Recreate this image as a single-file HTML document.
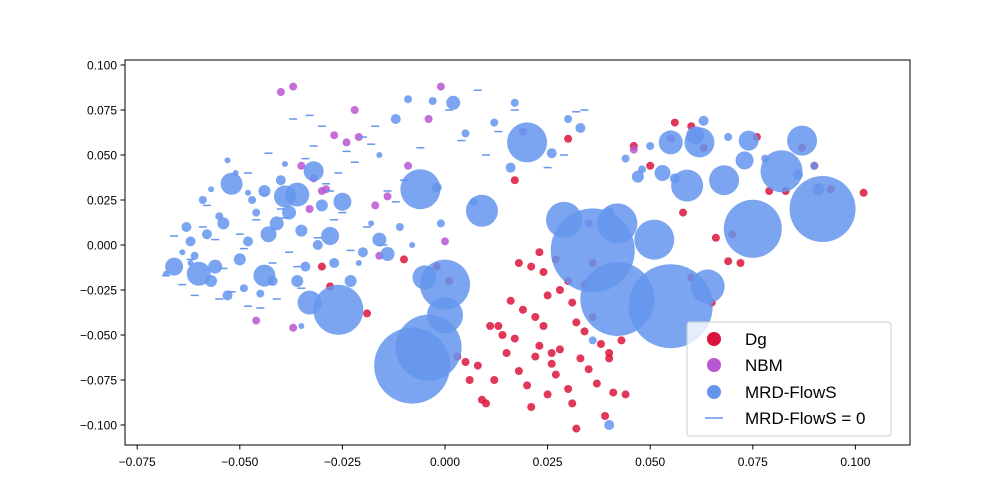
<!DOCTYPE html>
<html><head><meta charset="utf-8">
<style>
html,body{margin:0;padding:0;background:#fff;}
svg{display:block;font-family:"Liberation Sans","DejaVu Sans",sans-serif;}
</style></head>
<body>
<svg id="chart" width="1000" height="500" viewBox="0 0 1000 500">
<rect x="0" y="0" width="1000" height="500" fill="#fff"/>
<g id="marks"></g>
<rect x="125" y="60" width="785" height="385" fill="none" stroke="#000" stroke-width="1"/>
<g id="xaxis"></g>
<g id="yaxis"></g>
<g>
<rect x="687" y="322" width="204" height="114" rx="3" fill="#fff" fill-opacity="0.8" stroke="#ccc"/>
<circle cx="714" cy="339" r="7" fill="#DC143C"/>
<text x="745" y="345" font-size="17">Dg</text>
<circle cx="714" cy="365" r="7" fill="#BA55D3"/>
<text x="745" y="371" font-size="17">NBM</text>
<circle cx="714" cy="392" r="7" fill="#6495ED"/>
<text x="745" y="398" font-size="17">MRD-FlowS</text>
<line x1="705" y1="418" x2="723" y2="418" stroke="#6495ED" stroke-width="1.5"/>
<text x="745" y="424" font-size="17">MRD-FlowS = 0</text>
</g>
</svg>
<script>
const xTicks=[-0.075,-0.05,-0.025,0,0.025,0.05,0.075,0.1];
const xTickLabels=["−0.075","−0.050","−0.025","0.000","0.025","0.050","0.075","0.100"];
const yTicks=[-0.1,-0.075,-0.05,-0.025,0,0.025,0.05,0.075,0.1];
const yTickLabels=["−0.100","−0.075","−0.050","−0.025","0.000","0.025","0.050","0.075","0.100"];
const dgX=[0.005,0.010,0.012,0.015,0.017,0.018,0.020,0.021,0.022,0.023,0.024,0.025,0.026,0.027,0.028,0.030,0.031,0.033,0.034,0.035,0.037,0.038,0.040,0.041,0.043,0.016,0.019,0.022,0.025,0.028,0.031,0.034,0.013,0.018,0.024,0.030,0.036,0.009,0.011,0.014,0.021,0.027,0.032,0.039,0.044,0.006,0.003,0.001,-0.002,-0.010,-0.019,-0.028,-0.030,0.046,0.050,0.056,0.060,0.063,0.066,0.069,0.072,0.076,0.079,0.083,0.090,0.094,0.102,0.087,0.060,0.058,0.065,0.070,0.030,0.017,0.023,0.036,0.026,0.032,0.040,0.008];
const dgY=[-0.065,-0.088,-0.075,-0.060,-0.052,-0.070,-0.078,-0.090,-0.062,-0.056,-0.045,-0.083,-0.066,-0.072,-0.058,-0.080,-0.088,-0.063,-0.048,-0.069,-0.077,-0.055,-0.060,-0.082,-0.053,-0.031,-0.036,-0.040,-0.028,-0.025,-0.032,-0.022,-0.045,-0.010,-0.015,-0.020,-0.040,-0.086,-0.045,-0.050,-0.012,-0.008,-0.102,-0.095,-0.083,-0.075,-0.062,-0.020,-0.012,-0.008,-0.038,-0.023,-0.012,0.055,0.044,0.068,0.066,0.054,0.004,-0.009,-0.010,0.060,0.030,0.030,0.044,0.031,0.029,0.054,-0.018,0.018,-0.032,0.006,0.059,0.036,-0.004,-0.010,-0.060,-0.043,-0.063,-0.067];
const nbmX=[-0.040,-0.037,-0.022,-0.021,-0.024,-0.027,-0.029,-0.035,-0.033,-0.032,-0.046,-0.037,-0.014,-0.017,-0.009,-0.004,-0.001,0.019,0.046,0.055,0.035,0.000,-0.016,-0.030];
const nbmY=[0.085,0.088,0.075,0.060,0.057,0.061,0.031,0.044,0.020,0.037,-0.042,-0.046,0.027,0.022,0.044,0.070,0.088,0.063,0.053,0.059,0.012,0.002,-0.006,0.030];
const mrdX=[-0.008,-0.004,0.036,0.042,0.055,0.092,0.075,-0.026,0.000,-0.006,0.020,0.042,0.051,0.082,0.029,0.064,0.059,0.009,0.000,-0.005,0.068,0.087,0.062,0.055,-0.060,-0.066,-0.052,-0.036,-0.039,-0.032,-0.044,-0.033,-0.025,-0.014,0.040,0.074,0.053,0.061,0.073,0.047,-0.056,-0.050,-0.048,-0.043,-0.041,-0.038,-0.030,-0.028,-0.062,-0.058,-0.054,-0.046,-0.044,-0.040,-0.035,-0.031,-0.027,-0.023,-0.020,-0.063,-0.061,-0.057,-0.053,-0.049,-0.045,-0.042,-0.047,-0.051,-0.055,-0.059,-0.064,-0.068,-0.034,-0.036,-0.012,-0.009,-0.003,0.002,0.005,0.012,0.017,0.026,0.030,0.033,0.044,0.048,0.050,0.056,0.063,0.069,0.078,0.086,0.090,0.091,0.040,0.016,-0.002,-0.016,-0.011,-0.008,-0.001,0.007,-0.021,-0.018,-0.016,-0.039,-0.048,-0.053,-0.057,-0.062,-0.035,0.036];
const mrdY=[-0.067,-0.057,-0.003,-0.030,-0.034,0.020,0.009,-0.036,-0.022,0.031,0.057,0.012,0.003,0.041,0.014,-0.023,0.033,0.019,-0.039,-0.018,0.036,0.058,0.057,0.057,-0.016,-0.012,0.034,0.028,0.027,0.041,-0.017,-0.032,0.024,-0.005,-0.100,0.058,0.040,0.061,0.047,0.038,-0.012,-0.008,0.002,0.006,0.012,0.018,0.022,0.005,0.002,0.006,0.012,0.018,0.030,0.036,0.008,0.000,-0.010,-0.020,-0.004,0.010,-0.006,-0.020,-0.028,-0.024,-0.027,-0.020,0.025,0.040,0.016,0.025,-0.004,-0.016,-0.012,-0.020,0.070,0.081,0.080,0.079,0.062,0.068,0.079,0.051,0.070,0.065,0.048,0.042,0.055,0.037,0.069,0.060,0.048,0.039,0.044,0.031,0.018,0.043,0.032,0.003,0.010,0.000,0.012,0.024,-0.010,0.012,0.050,0.045,0.029,0.047,0.031,-0.010,-0.045,-0.053];
const mrdR=[38,33,42,37,42,33,29,25,25,20,20,20,20,21,18,17,16,16,18,12,15,15,15,12,12,9,11,12,11,10,11,12,9,7,5,10,8,9,9,6,7,6,5,8,7,7,6,9,5,5,6,4,6,5,6,5,5,6,5,5,4,6,5,4,4,5,4,3,4,4,3,3,5,6,5,4,4,7,4,4,4,5,4,5,4,4,4,5,5,4,4,5,4,6,5,5,5,7,4,3,4,4,3,3,3,3,3,3,3,3,3,4];
const zeroX=[-0.068,-0.064,-0.061,-0.059,-0.055,-0.052,-0.050,-0.048,-0.046,-0.044,-0.042,-0.040,-0.038,-0.036,-0.034,-0.032,-0.030,-0.028,-0.026,-0.024,-0.022,-0.020,-0.018,-0.014,-0.012,-0.066,-0.062,-0.058,-0.054,-0.048,-0.043,-0.037,-0.033,-0.029,-0.025,-0.019,-0.015,-0.010,-0.006,0.001,0.004,0.010,0.013,0.017,0.019,0.025,0.029,0.032,0.034,-0.041,-0.035,-0.031,-0.056,-0.049,-0.045,-0.039,-0.027,-0.023,-0.017,0.008];
const zeroY=[-0.017,-0.022,-0.028,0.010,-0.030,-0.026,0.006,-0.034,0.014,0.028,-0.010,0.020,-0.004,-0.012,0.048,0.055,0.066,0.030,0.040,0.052,0.046,0.060,0.056,0.030,0.024,0.005,-0.008,0.022,-0.013,0.040,0.051,0.070,0.072,0.034,0.018,0.010,0.000,0.036,0.054,0.075,0.058,0.050,0.063,0.075,0.064,0.043,0.050,0.074,0.075,-0.030,-0.024,0.004,0.003,-0.002,-0.035,0.015,0.014,-0.003,0.066,0.086];
const X=v=>445+v*4104, Y=v=>245-v*1800;
const NS="http://www.w3.org/2000/svg";
const marks=document.getElementById('marks');
function mk(t,a){const e=document.createElementNS(NS,t);for(const k in a)e.setAttribute(k,a[k]);return e;}
dgX.forEach((v,i)=>{const c=mk('circle',{cx:X(v),cy:Y(dgY[i]),r:4,fill:'#DC143C','fill-opacity':0.85});


marks.appendChild(c);});
nbmX.forEach((v,i)=>{const c=mk('circle',{cx:X(v),cy:Y(nbmY[i]),r:4,fill:'#BA55D3','fill-opacity':0.85});


marks.appendChild(c);});
zeroX.forEach((v,i)=>{const l=mk('line',{x1:X(v)-4,x2:X(v)+4,y1:Y(zeroY[i]),y2:Y(zeroY[i]),stroke:'#6495ED','stroke-width':1.5});


marks.appendChild(l);});
mrdX.forEach((v,i)=>{const c=mk('circle',{cx:X(v),cy:Y(mrdY[i]),r:mrdR[i],fill:'#6495ED','fill-opacity':0.85});


marks.appendChild(c);});
const xa=document.getElementById('xaxis');
xTicks.forEach((v,i)=>{xa.appendChild(mk('line',{x1:X(v),x2:X(v),y1:445,y2:449.5,stroke:'#000'}));
const t=mk('text',{x:X(v),y:466,'font-size':12,'text-anchor':'middle'});t.textContent=xTickLabels[i];


xa.appendChild(t);});
const ya=document.getElementById('yaxis');
yTicks.forEach((v,i)=>{ya.appendChild(mk('line',{x1:120.5,x2:125,y1:Y(v),y2:Y(v),stroke:'#000'}));
const t=mk('text',{x:117,y:Y(v)+4.5,'font-size':12,'text-anchor':'end'});t.textContent=yTickLabels[i];


ya.appendChild(t);});
</script>
</body></html>
